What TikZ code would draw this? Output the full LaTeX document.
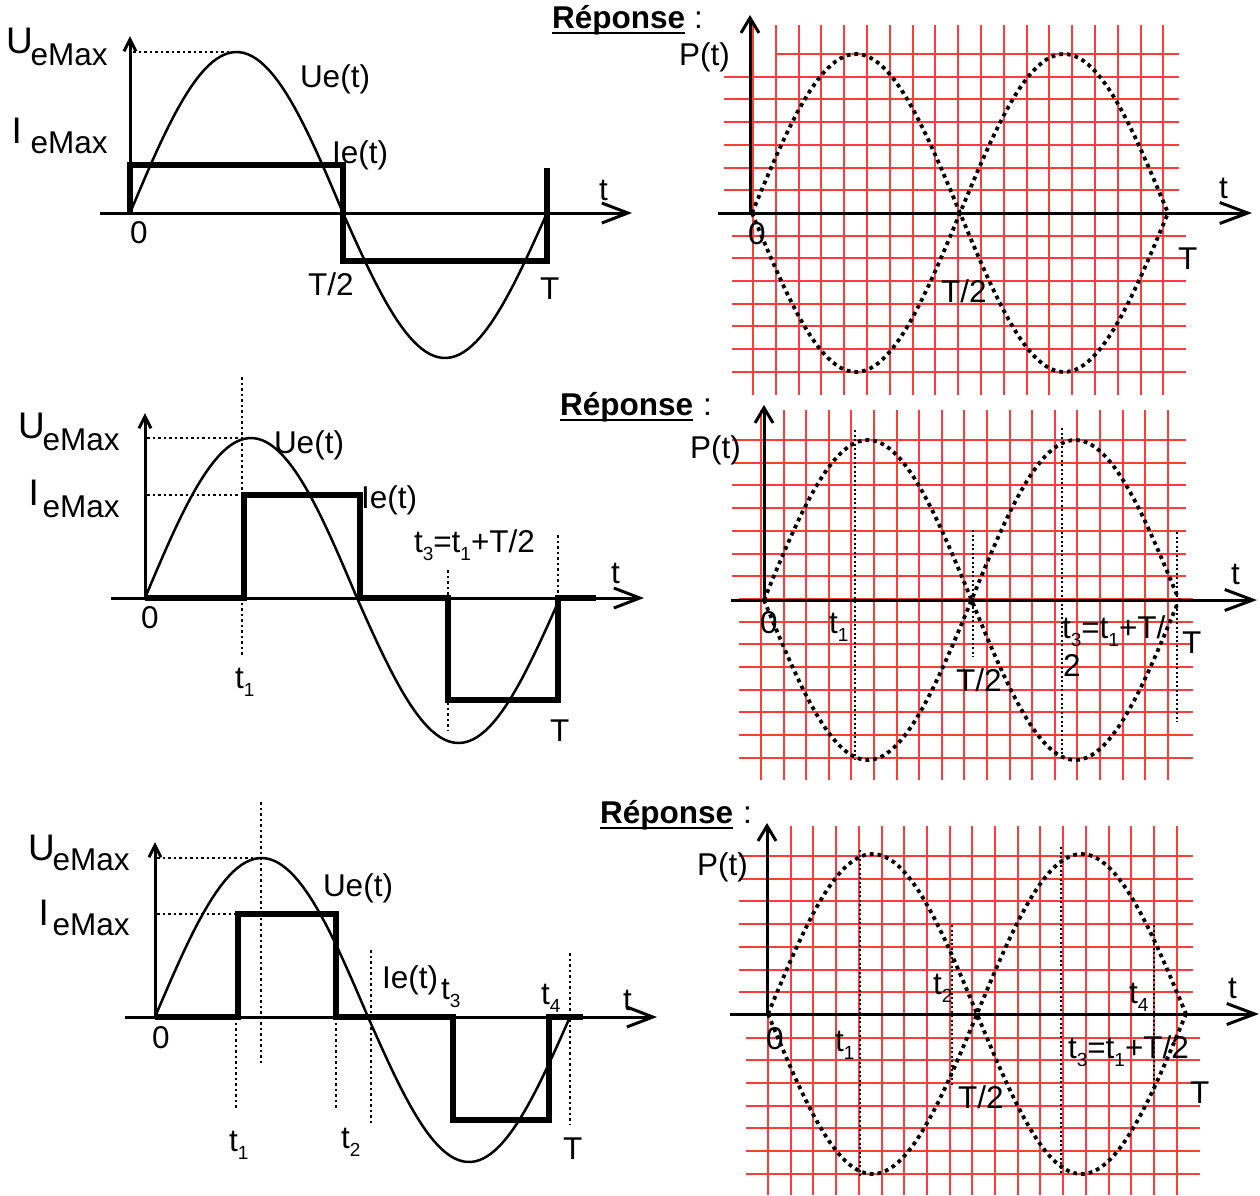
\documentclass[tikz,border=0pt]{standalone}
\usepackage{fontspec}
\setmainfont{Liberation Sans}
\usetikzlibrary{arrows.meta}
\definecolor{gridred}{RGB}{255,60,60}
\newcommand\sbs[1]{\raisebox{-8pt}{\fontsize{19}{19}\selectfont #1}}
\newcommand\maxlab[3]{{\fontsize{37}{37}\selectfont #1}\hspace{#2}\raisebox{-#3}{eMax}}
\begin{document}
\begin{tikzpicture}[x=1pt,y=-1pt,
  lbl/.style={anchor=base west, inner sep=0pt, outer sep=0pt, font=\fontsize{31.5}{36}\selectfont},
  boldlbl/.style={lbl, font=\fontsize{31.5}{36}\selectfont\bfseries},
  axl/.style={line width=3pt},
  tarrow/.style={axl,-{Straight Barb[length=26pt,width=20pt]}},
  varrow/.style={axl,-{Straight Barb[length=12pt,width=12pt]}},
  rvarrow/.style={axl,-{Straight Barb[length=15pt,width=18pt]}},
  rtarrow/.style={axl,-{Straight Barb[length=28pt,width=21pt]}},
  sine/.style={line width=2.5pt},
  sq/.style={line width=6pt, line join=miter},
  guide/.style={line width=2.5pt, dash pattern=on 2.5pt off 3pt},
  vguide/.style={line width=1.8pt, dash pattern=on 2pt off 2.5pt},
  pdot/.style={line width=3.8pt, dash pattern=on 3.8pt off 4pt},
  gridl/.style={draw=gridred, line width=2pt},
  uline/.style={line width=2pt}
]
\useasboundingbox (0,0) rectangle (1260,1195);

% ================= GRIDS =================
% panel 1
\foreach \i in {0,...,18} \draw[gridl] ({753+22.8*\i},25) -- ({753+22.8*\i},395);
\draw[gridl] (776,54) -- (1179,54);
\foreach \j in {1,...,6} \draw[gridl] (724,{54+22.7*\j}) -- (1179,{54+22.7*\j});
\foreach \j in {7,...,14} \draw[gridl] (732,{54+22.7*\j}) -- (1186,{54+22.7*\j});
% panel 2
\foreach \i in {0,...,18} \draw[gridl] ({761+22.6*\i},410) -- ({761+22.6*\i},780);
\foreach \j in {0,...,6} \draw[gridl] (732,{440+22.7*\j}) -- (1186,{440+22.7*\j});
\foreach \j in {7,...,14} \draw[gridl] (739,{440+22.7*\j}) -- (1193,{440+22.7*\j});
% panel 3
\foreach \i in {0,...,18} \draw[gridl] ({768+22.7*\i},826) -- ({768+22.7*\i},1195);
\foreach \j in {0,...,6} \draw[gridl] (739,{856+22.7*\j}) -- (1193,{856+22.7*\j});
\foreach \j in {7,...,14} \draw[gridl] (746,{856+22.7*\j}) -- (1200,{856+22.7*\j});

% ================= P(t) CURVES =================
\draw[pdot] plot[domain=0:360,samples=100] ({752+(\x/360)*416},{213-159*sin(\x)});
\draw[pdot] plot[domain=0:360,samples=100] ({752+(\x/360)*416},{213+159*sin(\x)});
\draw[pdot] plot[domain=0:360,samples=100] ({764+(\x/360)*415},{600-160*sin(\x)});
\draw[pdot] plot[domain=0:360,samples=100] ({764+(\x/360)*415},{600+160*sin(\x)});
\draw[pdot] plot[domain=0:360,samples=100] ({768+(\x/360)*418},{1014-160*sin(\x)});
\draw[pdot] plot[domain=0:360,samples=100] ({768+(\x/360)*418},{1014+160*sin(\x)});

% right vertical guides
\draw[vguide] (855,430) -- (855,760);
\draw[vguide] (973,530) -- (973,657);
\draw[vguide] (1062,428) -- (1062,760);
\draw[vguide] (1177,532) -- (1177,722);
\draw[vguide] (860,850) -- (860,1178);
\draw[vguide] (952,925) -- (952,1087);
\draw[vguide] (1061,847) -- (1061,1173);
\draw[vguide] (1154,925) -- (1154,1093);

% ================= LEFT GUIDES =================
\draw[guide] (133,52) -- (237,52);
\draw[guide] (147,438) -- (244,438);
\draw[guide] (147,495) -- (244,495);
\draw[guide] (242,377) -- (242,655);
\draw[guide] (448,570) -- (448,730);
\draw[guide] (558,535) -- (558,598);
\draw[guide] (157,858) -- (262,858);
\draw[guide] (157,914) -- (238,914);
\draw[guide] (261,802) -- (261,1063);
\draw[guide] (236,1017) -- (236,1110);
\draw[guide] (336,1017) -- (336,1110);
\draw[guide] (371,950) -- (371,1123);
\draw[guide] (570,953) -- (570,1125);

% ================= SINES =================
\draw[sine] plot[domain=0:180,samples=50] ({130+(\x/180)*213},{213-161*sin(\x)})
  -- plot[domain=180:360,samples=50] ({343+((\x-180)/180)*204},{213-145*sin(\x)});
\draw[sine] plot[domain=0:180,samples=50] ({145+(\x/180)*212},{598-160*sin(\x)})
  -- plot[domain=180:360,samples=50] ({357+((\x-180)/180)*203},{598-145*sin(\x)});
\draw[sine] plot[domain=0:180,samples=50] ({155+(\x/180)*213},{1017-159*sin(\x)})
  -- plot[domain=180:360,samples=50] ({368+((\x-180)/180)*202},{1017-145*sin(\x)});

% ================= AXES =================
\draw[tarrow] (100,213) -- (632,213);
\draw[varrow] (130,213) -- (130,36);
\draw[rtarrow] (718,213) -- (1252,213);
\draw[rvarrow] (750,213) -- (750,15);
\draw[tarrow] (111,598) -- (644,598);
\draw[varrow] (145,598) -- (145,413);
\draw[rtarrow] (731,600) -- (1257,600);
\draw[rvarrow] (764,600) -- (764,405);
\draw[tarrow] (125,1017) -- (657,1017);
\draw[varrow] (155,1017) -- (155,842);
\draw[rtarrow] (730,1014) -- (1259,1014);
\draw[rvarrow] (767,1014) -- (767,823);

% ================= SQUARE WAVES =================
\draw[sq] (130,213) -- (130,165) -- (343,165) -- (343,261) -- (547,261) -- (547,168);
\draw[sq] (145,598) -- (244,598) -- (244,495) -- (360,495) -- (360,598) -- (448,598)
  -- (448,700) -- (558,700) -- (558,598) -- (596,598);
\draw[sq] (155,1017) -- (238,1017) -- (238,914) -- (336,914) -- (336,1017) -- (453,1017)
  -- (453,1120) -- (549,1120) -- (549,1017) -- (583,1017);

% ================= LABELS: panel 1 =================
\node[lbl] (u1) at (6,53) {\maxlab{U}{-2pt}{12pt}};
\node[lbl] (i1) at (11.7,143) {\maxlab{I}{8.7pt}{10pt}};
\node[lbl] (ue1) at (300,87) {Ue(t)};
\node[lbl] (ie1) at (332,163) {Ie(t)};
\node[lbl] (z1) at (130,243) {0};
\node[lbl] (h1) at (308,295) {T/2};
\node[lbl] (T1) at (540,299) {T};
\node[lbl] (t1) at (599,200) {t};
\node[boldlbl] (r1) at (552,28) {Réponse};
\node[lbl] (c1) at (694,28) {:};
\draw[uline] ([yshift=-5pt]r1.base west) -- ([yshift=-5pt]r1.base east);
\node[lbl] (p1) at (679,65) {P(t)};
\node[lbl] (o1) at (748,244) {0};
\node[lbl] (hr1) at (941,302) {T/2};
\node[lbl] (Tr1) at (1178,269) {T};
\node[lbl] (tr1) at (1219,198) {t};

% ================= LABELS: panel 2 =================
\node[lbl] (u2) at (18,438) {\maxlab{U}{-2pt}{12pt}};
\node[lbl] (i2) at (28.7,505) {\maxlab{I}{3.7pt}{12pt}};
\node[lbl] (ue2) at (274,453) {Ue(t)};
\node[lbl] (ie2) at (361,508) {Ie(t)};
\node[lbl] (t3e2) at (414,552) {t\sbs{3}=t\sbs{1}+T/2};
\node[lbl] (tx2) at (611,583) {t};
\node[lbl] (z2) at (141,628) {0};
\node[lbl] (s2) at (235,688) {t\sbs{1}};
\node[lbl] (T2) at (550,741) {T};
\node[boldlbl] (r2) at (560,415) {Réponse};
\node[lbl] (c2) at (703,415) {:};
\draw[uline] ([yshift=-5pt]r2.base west) -- ([yshift=-5pt]r2.base east);
\node[lbl] (p2) at (690,458) {P(t)};
\node[lbl] (o2) at (760,633) {0};
\node[lbl] (s2r) at (829,633) {t\sbs{1}};
\node[lbl] (hr2) at (956,691) {T/2};
\node[lbl] (t3r2) at (1062,638) {t\sbs{3}=t\sbs{1}+T/};
\node[lbl] (two2) at (1063,676) {2};
\node[lbl] (Tr2) at (1182,653) {T};
\node[lbl] (tr2) at (1231,584) {t};

% ================= LABELS: panel 3 =================
\node[lbl] (u3) at (28,860) {\maxlab{U}{-2pt}{10pt}};
\node[lbl] (i3) at (38.7,925) {\maxlab{I}{3.7pt}{10pt}};
\node[lbl] (ue3) at (323,896) {Ue(t)};
\node[lbl] (ie3) at (382,988) {Ie(t)};
\node[lbl] (s33) at (441,999) {t\sbs{3}};
\node[lbl] (s34) at (541,1004) {t\sbs{4}};
\node[lbl] (tx3) at (623,1010) {t};
\node[lbl] (z3) at (152,1048) {0};
\node[lbl] (s31) at (229,1151) {t\sbs{1}};
\node[lbl] (s32) at (341,1148) {t\sbs{2}};
\node[lbl] (T3) at (563,1159) {T};
\node[boldlbl] (r3) at (600,823) {Réponse};
\node[lbl] (c3) at (743,823) {:};
\draw[uline] ([yshift=-5pt]r3.base west) -- ([yshift=-5pt]r3.base east);
\node[lbl] (p3) at (697,875) {P(t)};
\node[lbl] (o3) at (766,1049) {0};
\node[lbl] (s3r1) at (835,1051) {t\sbs{1}};
\node[lbl] (s3r2) at (933,994) {t\sbs{2}};
\node[lbl] (hr3) at (958,1108) {T/2};
\node[lbl] (t3r3) at (1068,1058) {t\sbs{3}=t\sbs{1}+T/2};
\node[lbl] (s3r4) at (1129,1003) {t\sbs{4}};
\node[lbl] (Tr3) at (1190,1103) {T};
\node[lbl] (tr3) at (1228,998) {t};
\end{tikzpicture}
\end{document}
